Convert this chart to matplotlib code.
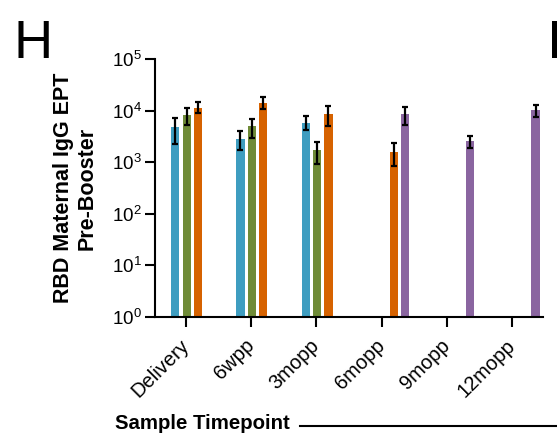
import matplotlib
matplotlib.use("Agg")
import matplotlib.pyplot as plt
import numpy as np

plt.rcParams['font.family'] = ['Liberation Sans', 'DejaVu Sans']

# Sample timepoints on the x axis
timepoints = ['Delivery', '6wpp', '3mopp', '6mopp', '9mopp', '12mopp']

# Geometric mean EPT per series (nan = no bar), with lower / upper error bounds
blue_vals = [4840, 2830, 5790, np.nan, np.nan, np.nan]
blue_lo = [2260, 1730, 4170, np.nan, np.nan, np.nan]
blue_hi = [7350, 4050, 7800, np.nan, np.nan, np.nan]

green_vals = [8280, 5070, 1730, np.nan, np.nan, np.nan]
green_lo = [5300, 3000, 925, np.nan, np.nan, np.nan]
green_hi = [11170, 7030, 2510, np.nan, np.nan, np.nan]

orange_vals = [11330, 14180, 8670, 1580, np.nan, np.nan]
orange_lo = [9060, 10670, 5140, 859, np.nan, np.nan]
orange_hi = [14620, 18830, 12400, 2400, np.nan, np.nan]

purple_vals = [np.nan, np.nan, np.nan, 8670, 2590, 10370]
purple_lo = [np.nan, np.nan, np.nan, 5300, 1870, 7460]
purple_hi = [np.nan, np.nan, np.nan, 12030, 3290, 13150]

series = [
    (blue_vals, blue_lo, blue_hi, '#3E9DC0', -0.165),
    (green_vals, green_lo, green_hi, '#6F8B37', 0.01),
    (orange_vals, orange_lo, orange_hi, '#D66200', 0.185),
    (purple_vals, purple_lo, purple_hi, '#8A65A0', 0.36),
]

fig = plt.figure(figsize=(5.57, 4.36), dpi=100)
ax = fig.add_axes([155 / 557, 1 - 316.7 / 436, 388 / 557, (316.7 - 59.3) / 436])

x = np.arange(len(timepoints))
width = 0.125

for vals, lo, hi, color, off in series:
    vals = np.array(vals, dtype=float)
    lo = np.array(lo, dtype=float)
    hi = np.array(hi, dtype=float)
    m = ~np.isnan(vals)
    ax.bar(x[m] + off, vals[m] - 1, width, bottom=1, color=color, zorder=2)
    ax.errorbar(x[m] + off, vals[m], yerr=[vals[m] - lo[m], hi[m] - vals[m]],
                fmt='none', ecolor='black', elinewidth=1.6, capsize=2, capthick=1.6, zorder=3)

ax.set_yscale('log')
ax.set_ylim(1, 1e5)
ax.set_xlim(-0.475, 5.475)
ax.set_yticks([1, 10, 100, 1e3, 1e4, 1e5])
ax.minorticks_off()

for s in ['top', 'right']:
    ax.spines[s].set_visible(False)
for s in ['left', 'bottom']:
    ax.spines[s].set_linewidth(1.5)

ax.tick_params(axis='both', length=7.5, width=1.5, color='black')
ax.tick_params(axis='y', pad=2, labelsize=13.5)
ax.set_xticks(x)
ax.set_xticklabels(timepoints, rotation=45, ha='right', va='center', rotation_mode='anchor')
ax.tick_params(axis='x', pad=11, labelsize=14.5)

fig.text(75 / 557, 1 - 188 / 436, 'RBD Maternal IgG EPT\nPre-Booster', rotation=90,
         ha='center', va='center', fontsize=15.5, fontweight='bold', linespacing=1.15)

fig.text(115 / 557, 1 - 423 / 436, 'Sample Timepoint', ha='left', va='center',
         fontsize=14.7, fontweight='bold')
fig.add_artist(plt.Line2D([300 / 557, 1.0], [1 - 426 / 436, 1 - 426 / 436],
                          color='black', linewidth=1.5, transform=fig.transFigure))

fig.text(14 / 557, 1 - 58 / 436, 'H', fontsize=39, ha='left', va='baseline')
fig.text(547 / 557, 1 - 58 / 436, 'I', fontsize=39, ha='left', va='baseline')

plt.savefig('out.png', dpi=100)
